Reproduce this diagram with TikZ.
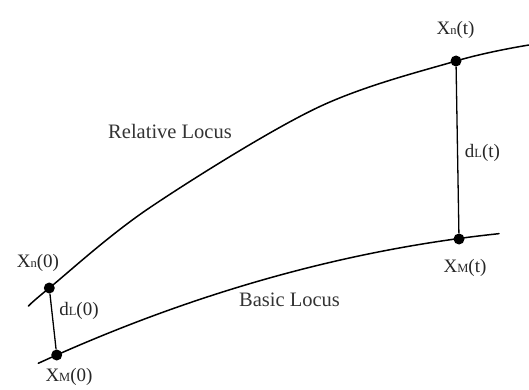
\documentclass[tikz,border=0pt]{standalone}
\usepackage{fontspec}
\setmainfont{Liberation Serif}
\newcommand\smsub[1]{{\fontsize{12.5}{12.5}\selectfont #1}}
\begin{document}
\begin{tikzpicture}[x=1pt,y=-1pt,
  locus/.style={line width=1.5pt, black, line cap=round},
  joinline/.style={line width=1.3pt, black},
  dot/.style={circle, fill=black, inner sep=0pt, minimum size=11pt},
  lbl/.style={font=\fontsize{19}{22}\selectfont, inner sep=0pt, text=black!85},
  big/.style={font=\fontsize{20.5}{24}\selectfont, inner sep=0pt, text=black!80}]
\useasboundingbox (0,0) rectangle (529,390);
% points on the loci
\node[dot] (n0) at (49.3,288) {};
\node[dot] (m0) at (56.7,355) {};
\node[dot] (nt) at (456,61) {};
\node[dot] (mt) at (459,239) {};
% loci
\draw[locus] plot[smooth, tension=0.55] coordinates {(28.5,306) (n0.center) (150,207.5) (316.7,108) (nt.center) (529,45)};
\draw[locus] plot[domain=38.3:499, samples=60, smooth] (\x, {381.34 - 0.4863*\x + 0.0003838*\x*\x});
% distances
\draw[joinline] (n0) -- (m0);
\draw[joinline] (nt) -- (mt);
% labels
\node[lbl] (ln0) at (38,263) {X\smsub{n}(0)};
\node[lbl] (lm0) at (69,377) {X\smsub{M}(0)};
\node[lbl] (ld0) at (79,311) {d\smsub{L}(0)};
\node[lbl] (lnt) at (455.5,29.5) {X\smsub{n}(t)};
\node[lbl] (lmt) at (465,267.5) {X\smsub{M}(t)};
\node[lbl] (ldt) at (482.5,152.5) {d\smsub{L}(t)};
\node[big] (rel) at (170,131) {Relative Locus};
\node[big] (bas) at (289.5,300) {Basic Locus};
\end{tikzpicture}
\end{document}
